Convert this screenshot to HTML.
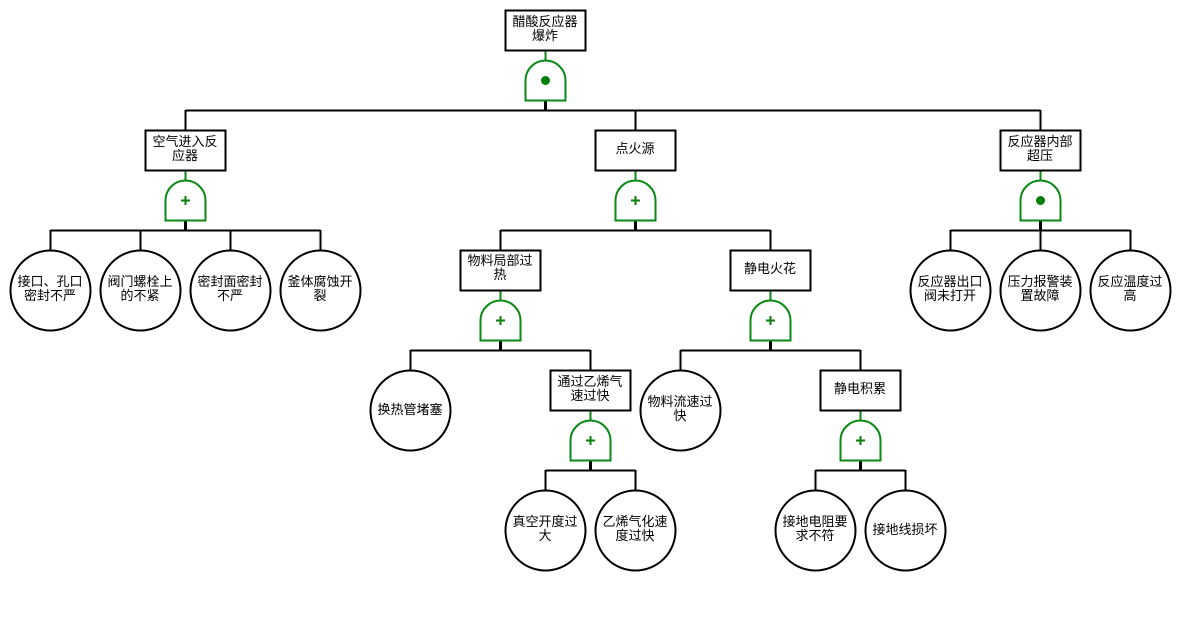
<!DOCTYPE html>
<html lang="zh">
<head>
<meta charset="utf-8">
<title>醋酸反应器爆炸</title>
<style>
html,body{margin:0;padding:0;background:#fff;width:1180px;height:630px;overflow:hidden}
svg{display:block}
text{font-family:"Liberation Sans","WenQuanYi Zen Hei","Noto Sans CJK SC",sans-serif;font-size:13px;fill:#000;text-anchor:middle}
.k{fill:none;stroke:#000;stroke-width:2}
.t{fill:none;stroke:#000;stroke-width:3}
.b{fill:#fff;stroke:#000;stroke-width:2}
.g{fill:#fff;stroke:#0a8a14;stroke-width:2}
.gl{fill:none;stroke:#0a8a14;stroke-width:2}
.p{fill:none;stroke:#0a800a;stroke-width:2}
.d{fill:#008000}
</style>
</head>
<body>
<svg width="1180" height="630" viewBox="0 0 1180 630" xmlns="http://www.w3.org/2000/svg">
<defs>
<path id="gate" d="M-20,40V20A20,20 0 0 1 20,20V40Z"/>
</defs>

<!-- black connectors -->
<path class="k" d="M185.5,110.5H1040.5M185.5,110V130M635.5,110V130M1040.5,110V130"/>
<path class="k" d="M50.5,230.5H320.5M50.5,230V250M140.5,230V250M230.5,230V250M320.5,230V250"/>
<path class="k" d="M500.5,230.5H770.5M500.5,230V250M770.5,230V250"/>
<path class="k" d="M950.5,230.5H1130.5M950.5,230V250M1040.5,230V250M1130.5,230V250"/>
<path class="k" d="M410.5,350.5H590.5M410.5,350V370M590.5,350V370"/>
<path class="k" d="M680.5,350.5H860.5M680.5,350V370M860.5,350V370"/>
<path class="k" d="M545.5,470.5H635.5M545.5,470V490M635.5,470V490"/>
<path class="k" d="M815.5,470.5H905.5M815.5,470V490M905.5,470V490"/>
<path class="t" d="M545.5,100V110M185.5,220V230M635.5,220V230M1040.5,220V230M500.5,340V350M770.5,340V350M590.5,460V470M860.5,460V470"/>

<!-- green connectors -->
<path class="gl" d="M545.5,50V60M185.5,170V180M635.5,170V180M1040.5,170V180M500.5,290V300M770.5,290V300M590.5,410V420M860.5,410V420"/>

<!-- gates -->
<use href="#gate" class="g" x="545.5" y="60.5"/>
<circle class="d" cx="545.5" cy="80.5" r="4.5"/>
<use href="#gate" class="g" x="185.5" y="180.5"/>
<path class="p" d="M181,200.5H190M185.5,196V205"/>
<use href="#gate" class="g" x="635.5" y="180.5"/>
<path class="p" d="M631,200.5H640M635.5,196V205"/>
<use href="#gate" class="g" x="1040.5" y="180.5"/>
<circle class="d" cx="1040.5" cy="200.5" r="4.5"/>
<use href="#gate" class="g" x="500.5" y="300.5"/>
<path class="p" d="M496,320.5H505M500.5,316V325"/>
<use href="#gate" class="g" x="770.5" y="300.5"/>
<path class="p" d="M766,320.5H775M770.5,316V325"/>
<use href="#gate" class="g" x="590.5" y="420.5"/>
<path class="p" d="M586,440.5H595M590.5,436V445"/>
<use href="#gate" class="g" x="860.5" y="420.5"/>
<path class="p" d="M856,440.5H865M860.5,436V445"/>

<!-- boxes -->
<rect class="b" x="505.5" y="10.5" width="80" height="40"/>
<rect class="b" x="145.5" y="130.5" width="80" height="40"/>
<rect class="b" x="595.5" y="130.5" width="80" height="40"/>
<rect class="b" x="1000.5" y="130.5" width="80" height="40"/>
<rect class="b" x="460.5" y="250.5" width="80" height="40"/>
<rect class="b" x="730.5" y="250.5" width="80" height="40"/>
<rect class="b" x="550.5" y="370.5" width="80" height="40"/>
<rect class="b" x="820.5" y="370.5" width="80" height="40"/>

<!-- events -->
<circle class="b" cx="50.5" cy="290.5" r="40"/>
<circle class="b" cx="140.5" cy="290.5" r="40"/>
<circle class="b" cx="230.5" cy="290.5" r="40"/>
<circle class="b" cx="320.5" cy="290.5" r="40"/>
<circle class="b" cx="950.5" cy="290.5" r="40"/>
<circle class="b" cx="1040.5" cy="290.5" r="40"/>
<circle class="b" cx="1130.5" cy="290.5" r="40"/>
<circle class="b" cx="410.5" cy="410.5" r="40"/>
<circle class="b" cx="680.5" cy="410.5" r="40"/>
<circle class="b" cx="545.5" cy="530.5" r="40"/>
<circle class="b" cx="635.5" cy="530.5" r="40"/>
<circle class="b" cx="815.5" cy="530.5" r="40"/>
<circle class="b" cx="905.5" cy="530.5" r="40"/>

<!-- labels -->
<text x="545" y="26">醋酸反应器</text><text x="545" y="40">爆炸</text>
<text x="185" y="146">空气进入反</text><text x="185" y="160">应器</text>
<text x="635" y="153">点火源</text>
<text x="1040" y="146">反应器内部</text><text x="1040" y="160">超压</text>
<text x="500" y="265">物料局部过</text><text x="500" y="279">热</text>
<text x="770" y="273">静电火花</text>
<text x="590" y="386">通过乙烯气</text><text x="590" y="400">速过快</text>
<text x="860" y="393">静电积累</text>
<text x="50" y="286">接口、孔口</text><text x="50" y="300">密封不严</text>
<text x="140" y="286">阀门螺栓上</text><text x="140" y="300">的不紧</text>
<text x="230" y="286">密封面密封</text><text x="230" y="300">不严</text>
<text x="320" y="286">釜体腐蚀开</text><text x="320" y="300">裂</text>
<text x="950" y="286">反应器出口</text><text x="950" y="300">阀未打开</text>
<text x="1040" y="286">压力报警装</text><text x="1040" y="300">置故障</text>
<text x="1130" y="286">反应温度过</text><text x="1130" y="300">高</text>
<text x="410" y="414">换热管堵塞</text>
<text x="680" y="406">物料流速过</text><text x="680" y="420">快</text>
<text x="545" y="526">真空开度过</text><text x="545" y="540">大</text>
<text x="635" y="526">乙烯气化速</text><text x="635" y="540">度过快</text>
<text x="815" y="526">接地电阻要</text><text x="815" y="540">求不符</text>
<text x="905" y="534">接地线损坏</text>
</svg>
</body>
</html>
